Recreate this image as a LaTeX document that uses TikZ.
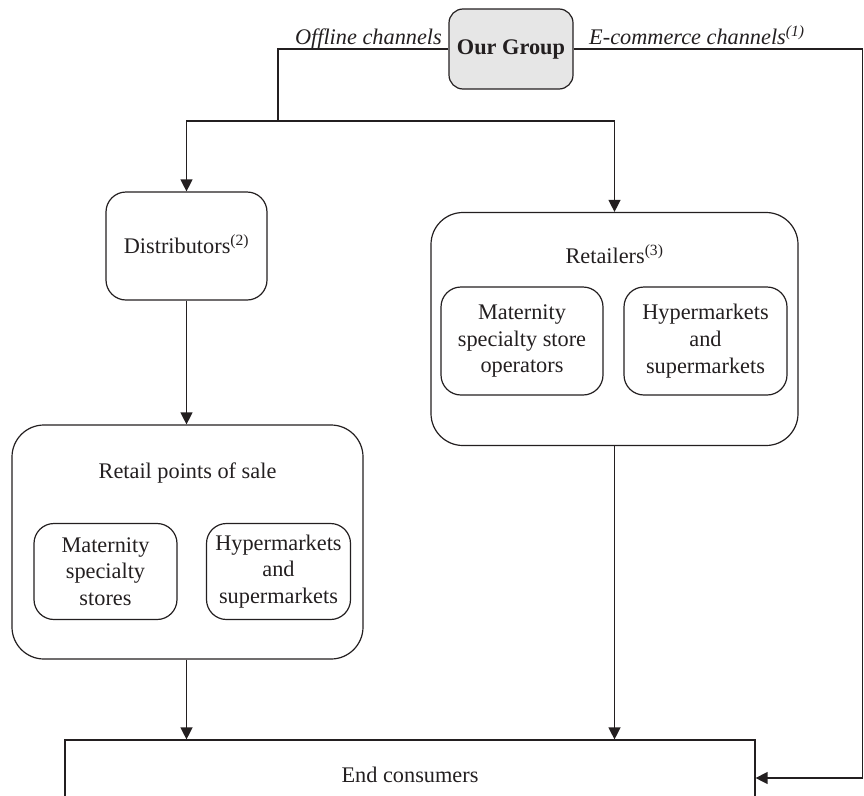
\documentclass[tikz,border=0pt]{standalone}
\usepackage{fontspec}
\setmainfont{Liberation Serif}
\usetikzlibrary{arrows.meta}
\definecolor{ink}{HTML}{231F20}
\definecolor{groupgray}{HTML}{E6E6E6}
\newcommand\dfont{\fontsize{22.3}{26.7}\selectfont}
\begin{document}
\begin{tikzpicture}[x=1pt,y=-1pt,
  line/.style={draw=ink, line width=1.3pt},
  arr/.style={line, -{Triangle[width=12pt,length=12pt]}},
  box/.style={draw=ink, line width=1.2pt, rounded corners=#1, align=center,
              inner sep=0pt, font=\dfont, text=ink},
  lbl/.style={font=\dfont, text=ink, inner sep=0pt}]
\clip (0,0) rectangle (864,795);
% main boxes
\node[box=14pt, fill=groupgray, minimum width=124pt, minimum height=80pt,
      font=\dfont\bfseries] (grp) at (511,49) {Our Group};
\node[box=20pt, minimum width=161pt, minimum height=108pt] (dist) at (186.5,246) {};
\node[lbl, anchor=base] (distt) at (186.5,253) {Distributors\textsuperscript{(2)}};
\node[box=32pt, minimum width=351pt, minimum height=234pt] (rps) at (187.5,542) {};
\node[lbl, anchor=base] (rpst) at (187.5,478) {Retail points of sale};
\node[box=20pt, minimum width=143pt, minimum height=96pt] (mss) at (105.5,571.5)
      {Maternity\\specialty\\stores};
\node[box=20pt, minimum width=144pt, minimum height=96pt] (hs1) at (278.5,571.5)
      {Hypermarkets\\and\\supermarkets};
\node[box=32pt, minimum width=367pt, minimum height=233pt] (ret) at (614.5,329) {};
\node[lbl, anchor=base] (rett) at (614.5,263) {Retailers\textsuperscript{(3)}};
\node[box=20pt, minimum width=162pt, minimum height=108pt] (msso) at (522,341)
      {Maternity\\specialty store\\operators};
\node[box=20pt, minimum width=163pt, minimum height=108pt] (hs2) at (705.5,341)
      {Hypermarkets\\and\\supermarkets};
\node[draw=ink, line width=1.2pt, minimum width=690pt, minimum height=76pt,
      inner sep=0pt] (ec) at (410,778) {};
\node[lbl, anchor=base] (ect) at (410,782) {End consumers};
% labels
\node[lbl, font=\dfont\itshape, anchor=base east] (offl) at (442,44) {Offline channels};
\node[lbl, font=\dfont\itshape, anchor=base west] (ecom) at (589,44)
      {E-commerce channels\textsuperscript{(1)}};
% connectors
\coordinate (split) at (278,121);
\coordinate (corner) at (862.5,49);
\draw[line] (grp.west) -| (split);
\draw[arr] (split) -| (dist.north);
\draw[arr] (split) -| (ret.north);
\draw[arr] (dist.south) -- (dist.south |- rps.north);
\draw[arr] (dist.south |- rps.south) -- (dist.south |- ec.north);
\draw[arr] (ret.south) -- (ret.south |- ec.north);
\draw[arr] (grp.east) -- (corner) |- (ec.east);
\end{tikzpicture}
\end{document}
